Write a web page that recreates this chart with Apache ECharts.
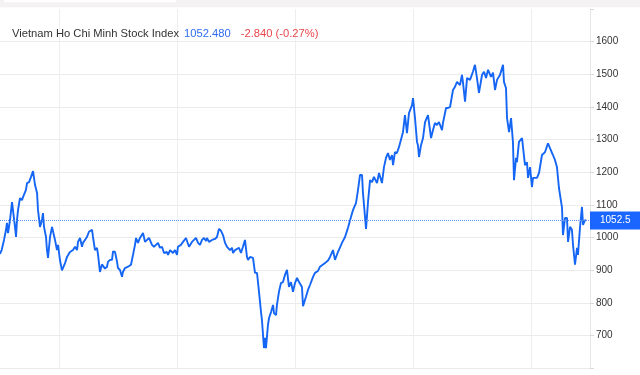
<!DOCTYPE html>
<html>
<head>
<meta charset="utf-8">
<script src="https://cdn.jsdelivr.net/npm/echarts@6/dist/echarts.min.js"></script>
<style>
html,body{margin:0;padding:0;background:#fff;}
#c{width:640px;height:375px;}
</style>
</head>
<body>
<div id="c"></div>
<script>
// ---- data ----
const indexName = 'Vietnam Ho Chi Minh Stock Index';
const lastPriceText = '1052.480';
const changeText = '-2.840 (-0.27%)';
const lastPrice = 1052.48;
const lastPriceLabel = '1052.5';

// decimal years
const years = [
2018.000,2018.014,2018.034,2018.051,2018.059,2018.068,2018.085,2018.102,2018.110,2018.127,
2018.136,2018.144,2018.153,2018.169,2018.186,2018.195,2018.220,2018.229,2018.246,2018.263,
2018.280,2018.288,2018.297,2018.314,2018.322,2018.339,2018.356,2018.364,2018.373,2018.390,
2018.398,2018.407,2018.424,2018.441,2018.449,2018.466,2018.483,2018.492,2018.508,2018.525,
2018.534,2018.551,2018.568,2018.576,2018.593,2018.619,2018.636,2018.653,2018.661,2018.678,
2018.695,2018.703,2018.720,2018.737,2018.754,2018.780,2018.788,2018.805,2018.822,2018.831,
2018.847,2018.864,2018.890,2018.907,2018.915,2018.932,2018.949,2018.958,2018.975,2018.992,
2019.000,2019.017,2019.034,2019.042,2019.059,2019.085,2019.110,2019.127,2019.144,2019.153,
2019.169,2019.186,2019.212,2019.229,2019.246,2019.263,2019.288,2019.305,2019.322,2019.339,
2019.356,2019.373,2019.390,2019.415,2019.424,2019.441,2019.466,2019.483,2019.500,2019.508,
2019.534,2019.551,2019.576,2019.585,2019.602,2019.627,2019.644,2019.661,2019.678,2019.695,
2019.712,2019.729,2019.746,2019.754,2019.771,2019.797,2019.805,2019.822,2019.839,2019.856,
2019.873,2019.890,2019.907,2019.924,2019.932,2019.949,2019.966,2019.975,2019.992,2020.008,
2020.025,2020.042,2020.059,2020.076,2020.093,2020.102,2020.119,2020.144,2020.161,2020.178,
2020.195,2020.212,2020.220,2020.229,2020.237,2020.246,2020.254,2020.271,2020.280,2020.297,
2020.314,2020.322,2020.339,2020.347,2020.364,2020.381,2020.398,2020.415,2020.432,2020.449,
2020.466,2020.483,2020.500,2020.517,2020.534,2020.559,2020.568,2020.593,2020.610,2020.627,
2020.653,2020.669,2020.695,2020.712,2020.737,2020.754,2020.780,2020.797,2020.822,2020.839,
2020.864,2020.898,2020.924,2020.949,2020.975,2020.992,2021.017,2021.034,2021.051,2021.068,
2021.076,2021.102,2021.119,2021.136,2021.153,2021.169,2021.195,2021.212,2021.237,2021.254,
2021.271,2021.288,2021.305,2021.322,2021.331,2021.347,2021.364,2021.381,2021.390,2021.415,
2021.432,2021.449,2021.466,2021.492,2021.500,2021.517,2021.534,2021.542,2021.551,2021.568,
2021.585,2021.602,2021.627,2021.653,2021.669,2021.686,2021.703,2021.720,2021.746,2021.754,
2021.780,2021.797,2021.814,2021.839,2021.856,2021.873,2021.898,2021.915,2021.924,2021.941,
2021.958,2021.983,2022.008,2022.025,2022.042,2022.059,2022.085,2022.102,2022.119,2022.136,
2022.161,2022.178,2022.195,2022.212,2022.237,2022.263,2022.271,2022.288,2022.297,2022.314,
2022.331,2022.347,2022.356,2022.373,2022.381,2022.398,2022.424,2022.432,2022.449,2022.466,
2022.475,2022.492,2022.508,2022.517,2022.551,2022.568,2022.593,2022.619,2022.644,2022.661,
2022.686,2022.703,2022.720,2022.737,2022.763,2022.771,2022.788,2022.805,2022.814,2022.831,
2022.847,2022.856,2022.873,2022.890,2022.898,2022.915,2022.932,2022.941,2022.958,2022.966
];
const closeValues = [
950,962,993,1024,1045,1014,1054,1109,1106,1033,
1002,1054,1085,1121,1115,1124,1146,1167,1170,1186,
1204,1198,1161,1137,1085,1033,1054,1075,1033,1002,
962,938,1002,1033,1033,993,962,978,932,900,
901,922,941,938,956,962,972,962,987,999,
972,984,993,1002,1018,1024,1002,962,969,947,
895,918,905,911,926,932,932,958,956,926,
907,901,880,895,907,911,917,947,978,999,
984,999,1014,987,993,999,978,972,978,984,
969,972,953,956,947,962,953,962,947,972,
978,987,999,993,972,987,993,999,984,978,
993,999,990,999,987,993,987,996,1002,1027,
1021,1008,984,972,969,962,969,953,962,956,
969,953,972,993,941,932,941,938,892,892,
834,772,748,702,662,693,662,733,754,772,
794,769,763,794,834,861,864,886,901,849,
864,834,861,877,864,849,790,819,840,855,
880,892,898,911,918,922,930,941,962,932,
956,984,1002,1030,1064,1085,1106,1146,1192,1192,
1137,1027,1110,1176,1170,1186,1167,1198,1167,1216,
1244,1259,1238,1253,1222,1262,1259,1277,1283,1323,
1375,1320,1381,1406,1427,1366,1293,1283,1247,1283,
1305,1354,1375,1305,1329,1351,1345,1354,1329,1351,
1397,1397,1400,1452,1462,1477,1467,1498,1474,1416,
1489,1483,1508,1529,1489,1443,1498,1508,1489,1514,
1492,1505,1452,1483,1498,1529,1477,1458,1366,1323,
1366,1293,1176,1244,1231,1293,1305,1299,1222,1231,
1183,1216,1155,1183,1183,1198,1253,1262,1289,1274,
1253,1238,1216,1152,1091,1008,1060,1060,987,1033,
1024,978,917,969,947,1030,1094,1039,1054,1052.48
];
const yTickValues = [700,800,900,1000,1100,1200,1300,1400,1500,1600];

// ---- chart ----
const seriesData = years.map((t, i) => [t, closeValues[i]]);
const chart = echarts.init(document.getElementById('c'), null, {renderer: 'canvas'});
const FONT = '"Liberation Sans", Arial, Helvetica, sans-serif';
chart.setOption({
  animation: false,
  backgroundColor: '#ffffff',
  textStyle: {fontFamily: FONT},
  title: {
    left: 12, top: 25, padding: 0,
    text: '{a|' + indexName + '} {b|' + lastPriceText + '}  {c|' + changeText + '}',
    textStyle: {
      fontWeight: 'normal',
      rich: {
        a: {color: '#333333', fontSize: 11.2, fontWeight: 'normal', fontFamily: FONT},
        b: {color: '#2f6df0', fontSize: 11.2, fontWeight: 'normal', fontFamily: FONT},
        c: {color: '#e8474c', fontSize: 11.2, fontWeight: 'normal', fontFamily: FONT}
      }
    }
  },
  grid: {left: 0, right: 50, top: 9, bottom: 6.7, containLabel: false},
  xAxis: {
    type: 'value', min: 2018, max: 2023, interval: 0.5,
    axisLine: {show: false}, axisTick: {show: false}, axisLabel: {show: false},
    splitLine: {show: true, lineStyle: {color: ['rgba(0,0,0,0)', '#eeeeee'], width: 1}}
  },
  yAxis: {
    type: 'value', position: 'right', min: 600, max: 1700, interval: 100,
    axisLine: {show: true, lineStyle: {color: '#e6e6e6'}},
    axisTick: {show: true, length: 4, lineStyle: {color: '#d9d9d9'}},
    axisLabel: {
      color: '#333333', fontSize: 10, margin: 6, fontFamily: FONT,
      formatter: v => (yTickValues.indexOf(v) >= 0 ? String(v) : '')
    },
    splitLine: {show: true, showMaxLine: false, lineStyle: {color: '#ebebeb', width: 1}}
  },
  series: [{
    type: 'line',
    data: seriesData,
    showSymbol: false,
    symbol: 'none',
    lineStyle: {color: '#1566f4', width: 1.9},
    z: 3,
    markLine: {
      silent: true,
      symbol: ['none', 'none'],
      animation: false,
      lineStyle: {color: '#5a8ff6', type: 'dotted', width: 1},
      label: {
        show: true, position: 'end', distance: 0,
        formatter: lastPriceLabel,
        color: '#ffffff', fontSize: 10, fontFamily: FONT,
        backgroundColor: '#1a66ff',
        padding: [4, 10, 4, 10]
      },
      data: [{yAxis: lastPrice}]
    }
  }],
  graphic: [
    {type: 'rect', z: 100, shape: {x: 0, y: 0, width: 640, height: 7.3}, style: {fill: '#f4f2f3'}},
    {type: 'rect', z: 101, shape: {x: 4, y: 0, width: 172, height: 2.3}, style: {fill: '#ffffff'}}
  ]
});
</script>
</body>
</html>
